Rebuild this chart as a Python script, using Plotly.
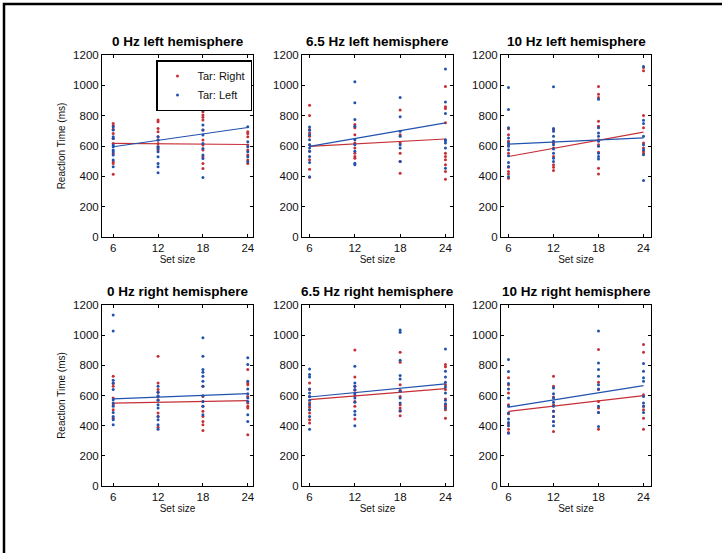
import plotly.graph_objects as go

W, H = 722, 553

set_sizes = [6, 12, 18, 24]
titles = ["0 Hz left hemisphere", "6.5 Hz left hemisphere", "10 Hz left hemisphere",
          "0 Hz right hemisphere", "6.5 Hz right hemisphere", "10 Hz right hemisphere"]
legend_names = ["Tar: Right", "Tar: Left"]

# Reaction times per set size (6, 12, 18, 24) -- red = Tar: Right, blue = Tar: Left
p1_right = [[749, 733, 711, 683, 650, 617, 551, 496, 485, 414],
            [771, 760, 716, 694, 661, 639, 617, 595, 573],
            [826, 804, 789, 771, 705, 639, 606, 573, 529, 485, 452],
            [694, 683, 661, 606, 573, 540, 507, 485]]
p1_left = [[727, 705, 661, 650, 606, 595, 573, 562, 540, 507, 463],
           [855, 661, 639, 595, 584, 562, 529, 485, 463, 423],
           [870, 837, 738, 705, 672, 617, 584, 540, 518, 392],
           [727, 628, 595, 562, 529, 496]]
p2_right = [[868, 801, 708, 686, 664, 609, 565, 509, 447, 394],
            [742, 720, 675, 620, 587, 553, 531, 520],
            [837, 675, 620, 553, 498, 421],
            [992, 859, 848, 753, 553, 531, 509, 476, 432, 381]]
p2_left = [[726, 704, 675, 642, 609, 587, 565, 531, 491, 398],
           [1023, 885, 775, 731, 642, 609, 565, 487, 476],
           [919, 793, 697, 664, 609, 587, 498],
           [1107, 890, 815, 642, 635, 620, 587, 454]]
p3_right = [[713, 675, 631, 609, 553, 460, 432, 416, 387],
            [708, 620, 587, 531, 476, 460, 438],
            [992, 941, 919, 764, 731, 642, 609, 558, 454, 416],
            [1118, 1096, 801, 720, 620, 587, 565, 553]]
p3_left = [[985, 841, 720, 653, 620, 598, 576, 536, 491, 465, 398],
           [990, 715, 697, 664, 631, 609, 580, 553, 520, 498],
           [908, 720, 686, 664, 631, 598, 553, 531, 514],
           [1125, 770, 748, 664, 609, 576, 542, 372]]
p4_right = [[728, 679, 661, 583, 539, 506, 450],
            [861, 683, 639, 621, 594, 572, 484, 461, 390],
            [661, 594, 561, 528, 495, 461, 428, 406, 368],
            [772, 683, 672, 594, 550, 528, 517, 339]]
p4_left = [[1134, 1027, 701, 683, 639, 572, 550, 528, 488, 461, 439, 406],
           [661, 621, 599, 568, 539, 517, 461, 439, 406, 377],
           [983, 861, 772, 754, 728, 694, 661, 599, 561, 528, 472],
           [850, 805, 694, 643, 612, 583, 561, 472, 428]]
p5_right = [[683, 639, 594, 550, 523, 506, 484, 439, 417],
            [901, 723, 661, 634, 599, 561, 528, 444],
            [887, 821, 672, 634, 594, 539, 517, 495, 466],
            [805, 790, 672, 639, 577, 539, 528, 506, 450]]
p5_left = [[776, 739, 723, 643, 617, 594, 568, 539, 506, 461, 377],
           [794, 683, 661, 639, 612, 583, 555, 495, 472, 399],
           [1034, 1020, 834, 732, 710, 628, 583, 550, 501],
           [909, 761, 723, 688, 657, 617, 568, 546, 517]]
p6_right = [[717, 672, 617, 539, 479, 413, 377, 355],
            [728, 661, 590, 539, 495, 461, 428, 361],
            [905, 688, 639, 561, 517, 488, 377],
            [938, 887, 605, 528, 506, 450, 377]]
p6_left = [[839, 759, 679, 643, 583, 528, 484, 444, 421, 399, 350],
           [650, 612, 583, 555, 528, 495, 461, 428, 399],
           [1027, 816, 772, 728, 672, 643, 528, 488, 395],
           [812, 761, 717, 694, 594, 550, 528, 488]]

right_data = [p1_right, p2_right, p3_right, p4_right, p5_right, p6_right]
left_data = [p1_left, p2_left, p3_left, p4_left, p5_left, p6_left]

# Regression-line values at set size 6 and 24
fit_x = [6, 24]
fit_right = [[617, 610], [598, 646], [531, 691], [550, 566], [572, 645], [495, 599]]
fit_left = [[595, 722], [598, 753], [613, 653], [577, 612], [590, 677], [523, 665]]

y_ticks = [0, 200, 400, 600, 800, 1000, 1200]
x_ranges = [[4.5, 24.7], [5, 25], [5, 25]]

RED = "#c62f35"
BLUE = "#2152ad"
FONT = "Liberation Sans, Arial, Helvetica, sans-serif"

col_px = [(102, 253), (302, 453), (501, 651)]
row_px = [(55, 237), (305, 486)]

fig = go.Figure()
layout = {}
annotations = []

for k in range(6):
    r, c = divmod(k, 3)
    n = k + 1
    xa = "x" if n == 1 else f"x{n}"
    ya = "y" if n == 1 else f"y{n}"
    for data, fit, color, name in [(right_data[k], fit_right[k], RED, legend_names[0]),
                                   (left_data[k], fit_left[k], BLUE, legend_names[1])]:
        xs, ys = [], []
        for s, vals in zip(set_sizes, data):
            xs += [s] * len(vals)
            ys += vals
        fig.add_trace(go.Scatter(x=xs, y=ys, mode="markers", xaxis=xa, yaxis=ya,
                                 marker=dict(color=color, size=3, line=dict(width=0)),
                                 name=name, showlegend=(k == 0), legendgroup=name))
        fig.add_trace(go.Scatter(x=fit_x, y=fit, mode="lines", xaxis=xa, yaxis=ya,
                                 line=dict(color=color, width=1.2),
                                 showlegend=False, hoverinfo="skip"))
    x0, x1 = col_px[c]
    y0, y1 = row_px[r]
    common = dict(showline=True, linecolor="black", linewidth=1, mirror="ticks",
                  ticks="inside", ticklen=3, tickcolor="black", showgrid=False,
                  zeroline=False, automargin=False,
                  tickfont=dict(family=FONT, size=11.5, color="#111"))
    layout["xaxis" if n == 1 else f"xaxis{n}"] = dict(
        domain=[x0 / W, x1 / W], anchor=ya, range=x_ranges[c], tickvals=set_sizes,
        title=dict(text="Set size", font=dict(family=FONT, size=10, color="#111"), standoff=2),
        **common)
    yd = dict(domain=[1 - y1 / H, 1 - y0 / H], anchor=xa, range=[0, 1200], tickvals=y_ticks, **common)
    if c == 0:
        yd["title"] = dict(text="Reaction Time (ms)", font=dict(family=FONT, size=10, color="#111"), standoff=5)
    layout["yaxis" if n == 1 else f"yaxis{n}"] = yd
    annotations.append(dict(text=f"<b>{titles[k]}</b>", xref="paper", yref="paper",
                            x=(x0 + x1) / 2 / W, y=1 - (y0 - 4) / H, xanchor="center", yanchor="bottom",
                            showarrow=False, font=dict(family=FONT, size=13.5, color="black")))

fig.update_layout(
    width=W, height=H, margin=dict(l=0, r=0, t=0, b=0, autoexpand=False),
    paper_bgcolor="white", plot_bgcolor="white",
    annotations=annotations,
    showlegend=True,
    legend=dict(x=252 / W, y=1 - 60 / H, xanchor="right", yanchor="top",
                bordercolor="black", borderwidth=1.5, bgcolor="white",
                font=dict(family=FONT, size=11, color="#111"),
                tracegroupgap=0, itemwidth=30),
    shapes=[dict(type="rect", xref="paper", yref="paper", x0=4 / W, x1=1.2,
                 y0=-0.2, y1=1 - 4 / H, line=dict(color="black", width=2.5))],
    **layout,
)

fig.write_html("out.html")
